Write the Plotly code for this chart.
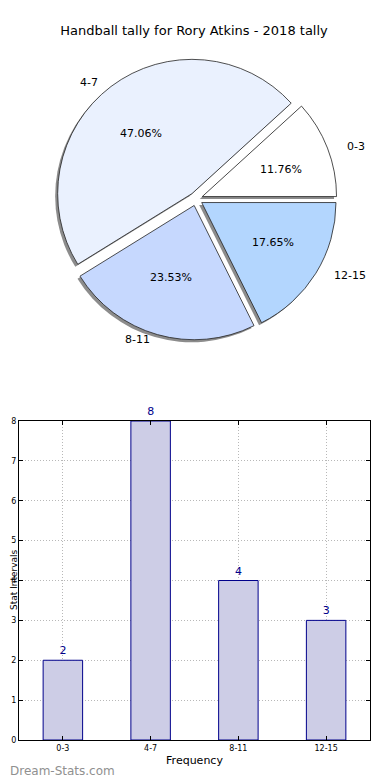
import math
import plotly.graph_objects as go

title = "Handball tally for Rory Atkins - 2018 tally"
categories = ["0-3", "4-7", "8-11", "12-15"]
counts = [2, 8, 4, 3]
pie_colors = ["#ffffff", "#eaf1fe", "#c6d8fe", "#b3d6fe"]
y_ticks = [0, 1, 2, 3, 4, 5, 6, 7, 8]

# page has an 8px body margin; work in window pixels and convert
OFF = 8
W, H = 390 - OFF, 780 - OFF
font = "DejaVu Sans"
total = sum(counts)


def xp(x):
    return (x - OFF) / W


def yp(y):
    return 1 - (y - OFF) / H


# pie geometry (window pixels)
CX, CY = 196, 199
half = 141
pull = 0.05
rot = 90 - 360 * counts[0] / total  # first slice starts at 3 o'clock

fig = go.Figure()

# shadow
fig.add_trace(go.Pie(
    values=counts, labels=categories, sort=False, direction="counterclockwise",
    rotation=rot, pull=pull, marker=dict(colors=["#8c8c8c"] * 4, line=dict(width=0)),
    textinfo="none", hoverinfo="skip", showlegend=False,
    domain=dict(x=[xp(CX - half - 2.5), xp(CX + half - 2.5)],
                y=[yp(CY + half + 2.5), yp(CY - half + 2.5)]),
))
# main pie
fig.add_trace(go.Pie(
    values=counts, labels=categories, sort=False, direction="counterclockwise",
    rotation=rot, pull=pull,
    marker=dict(colors=pie_colors, line=dict(color="#222222", width=0.8)),
    textinfo="none", showlegend=False,
    domain=dict(x=[xp(CX - half), xp(CX + half)], y=[yp(CY + half), yp(CY - half)]),
))

# labels and percentages placed at the data-derived slice mid angles
LRX, LRY = 160, 146
PRX, PRY = 91, 82
cum = 0
for lab, v in zip(categories, counts):
    mid = (cum + v / 2) / total * 2 * math.pi
    cum += v
    c, s = math.cos(mid), math.sin(mid)
    fig.add_annotation(x=xp(CX + LRX * c), y=yp(CY - LRY * s), xref="paper", yref="paper",
                       xanchor="left" if c > 0 else "right", yanchor="middle",
                       text=lab, showarrow=False,
                       font=dict(family=font, size=11, color="black"))
    fig.add_annotation(x=xp(CX + PRX * c), y=yp(CY - PRY * s), xref="paper", yref="paper",
                       xanchor="center", yanchor="middle",
                       text=f"{100 * v / total:.2f}%", showarrow=False,
                       font=dict(family=font, size=11, color="black"))

# bar chart
fig.add_trace(go.Bar(
    x=categories, y=counts, width=0.45,
    marker=dict(color="#cdcde6", line=dict(color="#00008b", width=1)),
    text=[str(c) for c in counts], textposition="outside",
    textfont=dict(family=font, size=11, color="#00008b"),
    cliponaxis=False, showlegend=False, xaxis="x", yaxis="y",
))

fig.update_layout(
    width=W, height=H,
    margin=dict(l=0, r=0, t=0, b=0, autoexpand=False),
    paper_bgcolor="white", plot_bgcolor="white",
    title=dict(text=title, x=xp(194), xref="container", xanchor="center", y=yp(30), yanchor="middle",
               font=dict(family=font, size=13, color="black")),
    xaxis=dict(domain=[xp(19), xp(370)], anchor="y", range=[-0.5, 3.5], automargin=False,
               showline=True, linecolor="black", linewidth=1, mirror="allticks",
               ticks="inside", ticklen=4, tickcolor="black",
               showgrid=True, gridcolor="#b8b8b8", griddash="1px,2px", gridwidth=1,
               tickfont=dict(family=font, size=8, color="black"),
               title=dict(text="Frequency", font=dict(family=font, size=11, color="black"), standoff=4)),
    yaxis=dict(domain=[yp(740), yp(421)], anchor="x", range=[0, 8], tickvals=y_ticks, automargin=False,
               showline=True, linecolor="black", linewidth=1, mirror="allticks",
               ticks="inside", ticklen=4, tickcolor="black",
               showgrid=True, gridcolor="#b8b8b8", griddash="1px,2px", gridwidth=1,
               zeroline=False,
               tickfont=dict(family=font, size=8, color="black")),
)

fig.add_annotation(x=0, y=yp(580), xref="paper", yref="paper", xanchor="left", yanchor="middle",
                   text="Stat Intervals", textangle=-90, showarrow=False, borderpad=0,
                   font=dict(family=font, size=9, color="black"))

fig.add_annotation(x=0, y=yp(771), xref="paper", yref="paper", xanchor="left", yanchor="middle",
                   text="Dream-Stats.com", showarrow=False,
                   font=dict(family=font, size=12, color="#909090"))

fig.write_html("out.html")
